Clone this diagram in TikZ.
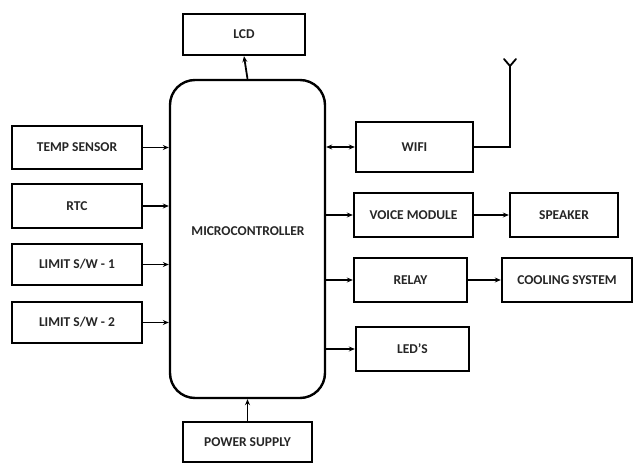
\documentclass[tikz,border=0pt]{standalone}
\usepackage{fontspec}
\setmainfont{Carlito}
\usetikzlibrary{arrows.meta}
\begin{document}
\begin{tikzpicture}[x=1pt,y=-1pt,
  lbl/.style={font=\fontsize{13.5}{15}\selectfont\bfseries, text=black!85},
  blk/.style={draw=black, line width=2.4pt, rectangle, inner sep=0pt, lbl},
  conn/.style={draw=black, line width=1.8pt, -{Stealth[length=6pt,width=5pt]}},
  bconn/.style={draw=black, line width=1.8pt, {Stealth[length=6pt,width=5pt]}-{Stealth[length=6pt,width=5pt]}},
  wire/.style={draw=black, line width=1.8pt}]
\useasboundingbox (0,0) rectangle (633,465);
\fill[white] (0,0) rectangle (633,465);
\node[blk, minimum width=122pt, minimum height=41pt] (lcd) at (244,34.5) {LCD};
\node[blk, rounded corners=25pt, minimum width=155pt, minimum height=318pt] (mc) at (247.5,239) {};
\node[lbl] (mctext) at (248,231) {MICROCONTROLLER};
\node[blk, minimum width=130pt, minimum height=43pt] (temp) at (77,147.5) {TEMP SENSOR};
\node[blk, minimum width=130pt, minimum height=44pt] (rtc) at (77,206) {RTC};
\node[blk, minimum width=130pt, minimum height=41pt] (lim1) at (77,264.5) {LIMIT S/W - 1};
\node[blk, minimum width=130pt, minimum height=41pt] (lim2) at (77,322.5) {LIMIT S/W - 2};
\node[blk, minimum width=129pt, minimum height=40pt] (ps) at (247.5,442) {POWER SUPPLY};
\node[blk, minimum width=117pt, minimum height=50pt] (wifi) at (414.5,147) {WIFI};
\node[blk, minimum width=119pt, minimum height=44pt] (voice) at (413.5,215) {VOICE MODULE};
\node[blk, minimum width=108pt, minimum height=44pt] (spk) at (564,215) {SPEAKER};
\node[blk, minimum width=113pt, minimum height=44pt] (relay) at (410.5,280) {RELAY};
\node[blk, minimum width=130pt, minimum height=44pt] (cool) at (567,280) {COOLING SYSTEM};
\node[blk, minimum width=113pt, minimum height=44pt] (leds) at (412.5,349) {LED'S};
% inputs
\draw[conn] (temp.east) -- (temp.east -| mc.west);
\draw[conn] (rtc.east) -- (rtc.east -| mc.west);
\draw[conn] (lim1.east) -- (lim1.east -| mc.west);
\draw[conn] (lim2.east) -- (lim2.east -| mc.west);
\draw[conn] (mc.north) -- (lcd.south);
\draw[conn] (ps.north) -- (mc.south);
% outputs
\draw[bconn] (wifi.west -| mc.east) -- (wifi.west);
\draw[conn] (voice.west -| mc.east) -- (voice.west);
\draw[conn] (relay.west -| mc.east) -- (relay.west);
\draw[conn] (leds.west -| mc.east) -- (leds.west);
\draw[conn] (voice.east) -- (spk.west);
\draw[conn] (relay.east) -- (cool.west);
% antenna
\coordinate (ant) at (510,66);
\coordinate (antl) at (504,59);
\coordinate (antr) at (516,59);
\draw[wire] (wifi.east) -| (ant);
\draw[wire, line cap=round] (antl) -- (ant) -- (antr);
\end{tikzpicture}
\end{document}
